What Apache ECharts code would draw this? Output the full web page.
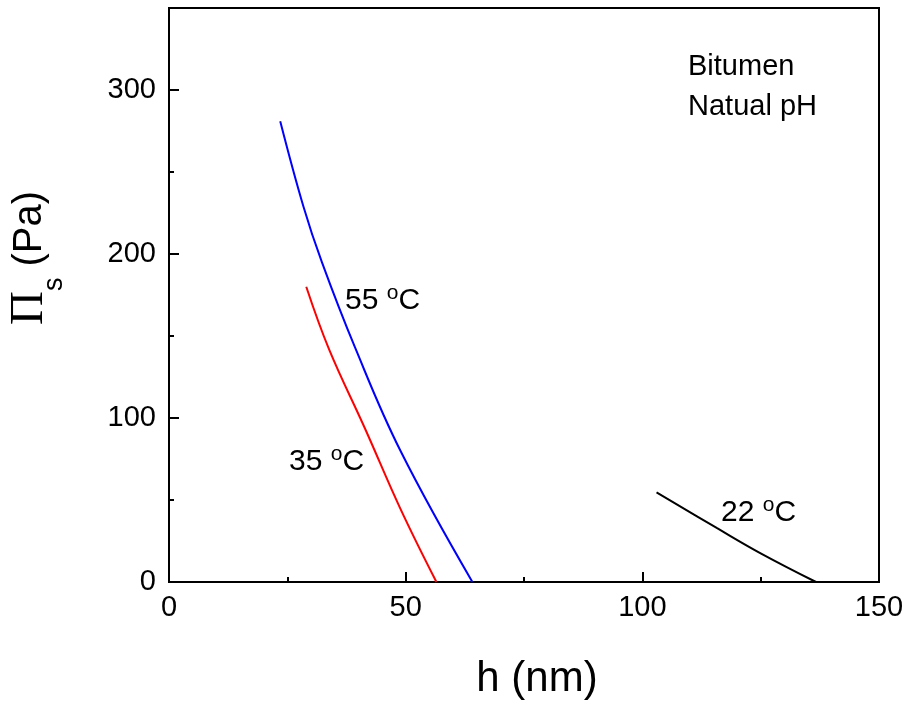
<!DOCTYPE html>
<html>
<head>
<meta charset="utf-8">
<script src="https://cdn.jsdelivr.net/npm/echarts@6/dist/echarts.min.js"></script>
<style>html,body{margin:0;padding:0;background:#fff}#c{width:909px;height:701px}</style>
</head>
<body>
<div id="c"></div>
<script>
// Data (h in nm, Pi_s in Pa)
const h55 = [23.5, 28.4, 32.3, 39.3, 48.9, 64.1];
const p55 = [281, 229, 195, 143, 80, 0];
const h35 = [29.0, 33.8, 41.5, 48.9, 56.5];
const p35 = [180, 142, 93, 44.6, 0];
const h22 = [103.0, 115.8, 125.0, 136.7];
const p22 = [54.6, 32.8, 17.5, 0];
const xTicks = [0, 50, 100, 150];
const yTicks = [0, 100, 200, 300];
const yMinorTicks = [50, 150, 250, 350];
const seriesNames = ['55 °C', '35 °C', '22 °C'];

const F = "'Liberation Sans', Arial, sans-serif";
const zip = (a, b) => a.map((v, i) => [v, b[i]]);

const chart = echarts.init(document.getElementById('c'), null, {renderer: 'canvas'});
const mkLine = (name, d, color) => ({
  name, type: 'line', data: d, smooth: 0.4, showSymbol: false, symbol: 'none',
  lineStyle: {color, width: 2}, itemStyle: {color}, animation: false, z: 3
});
const degLabel = (num) => '{n|' + num + ' }{sup|o}{n|C}';
const degRich = {
  n: {fontSize: 30, fontFamily: F, color: '#000', lineHeight: 36},
  sup: {fontSize: 21, fontFamily: F, color: '#000', lineHeight: 16, verticalAlign: 'top'}
};

chart.setOption({
  animation: false,
  backgroundColor: '#fff',
  grid: {left: 169, right: 30, top: 8, bottom: 119, show: true, borderColor: '#000', borderWidth: 2,
         containLabel: false, outerBoundsMode: 'none'},
  xAxis: {
    type: 'value', min: xTicks[0], max: xTicks[xTicks.length - 1], interval: 50,
    name: 'h (nm)', nameLocation: 'middle', nameGap: 76,
    nameTextStyle: {fontSize: 42, fontFamily: F, color: '#000', padding: [0, 0, 0, 26]},
    axisLine: {show: true, lineStyle: {color: '#000', width: 2}},
    axisTick: {show: true, inside: true, length: 10, lineStyle: {color: '#000', width: 2}},
    minorTick: {show: true, splitNumber: 2, length: 5, lineStyle: {color: '#000', width: 2}},
    axisLabel: {fontSize: 29, fontFamily: F, color: '#000', margin: 11},
    splitLine: {show: false}, minorSplitLine: {show: false}
  },
  yAxis: [{
    type: 'value', min: 0, max: 350, interval: 100, position: 'left', offset: 0,
    name: '{pi|Π}{sub|s}{n| (Pa)}', nameLocation: 'middle', nameRotate: 90, nameGap: 101,
    nameTextStyle: {
      padding: [0, 0, 0, 74],
      rich: {
        pi: {fontSize: 47, fontFamily: "'Liberation Serif', 'Times New Roman', serif", color: '#000', lineHeight: 76},
        sub: {fontSize: 27, fontFamily: F, color: '#000', lineHeight: 6, verticalAlign: 'bottom'},
        n: {fontSize: 40, fontFamily: F, color: '#000', lineHeight: 76}
      }
    },
    axisLine: {show: true, lineStyle: {color: '#000', width: 2}},
    axisTick: {show: true, inside: true, length: 10, customValues: yTicks, lineStyle: {color: '#000', width: 2}},
    axisLabel: {fontSize: 29, fontFamily: F, color: '#000', margin: 13, customValues: yTicks},
    splitLine: {show: false}
  }, {
    type: 'value', min: 0, max: 350, interval: 50, position: 'left', offset: 0,
    axisLine: {show: false},
    axisTick: {show: true, inside: true, length: 5, customValues: yMinorTicks, lineStyle: {color: '#000', width: 2}},
    axisLabel: {show: false},
    splitLine: {show: false}
  }],
  series: [
    mkLine(seriesNames[0], zip(h55, p55), '#0000ff'),
    mkLine(seriesNames[1], zip(h35, p35), '#ff0000'),
    mkLine(seriesNames[2], zip(h22, p22), '#000000')
  ],
  graphic: [
    {type: 'text', x: 345, y: 301, z: 10, style: {text: degLabel('55'), rich: degRich, verticalAlign: 'middle'}},
    {type: 'text', x: 289, y: 462, z: 10, style: {text: degLabel('35'), rich: degRich, verticalAlign: 'middle'}},
    {type: 'text', x: 721, y: 513, z: 10, style: {text: degLabel('22'), rich: degRich, verticalAlign: 'middle'}},
    {type: 'text', x: 688, y: 67, z: 10, style: {text: 'Bitumen', font: '29px ' + F, fill: '#000', verticalAlign: 'middle'}},
    {type: 'text', x: 688, y: 107, z: 10, style: {text: 'Natual pH', font: '29px ' + F, fill: '#000', verticalAlign: 'middle'}}
  ]
});
</script>
</body>
</html>
